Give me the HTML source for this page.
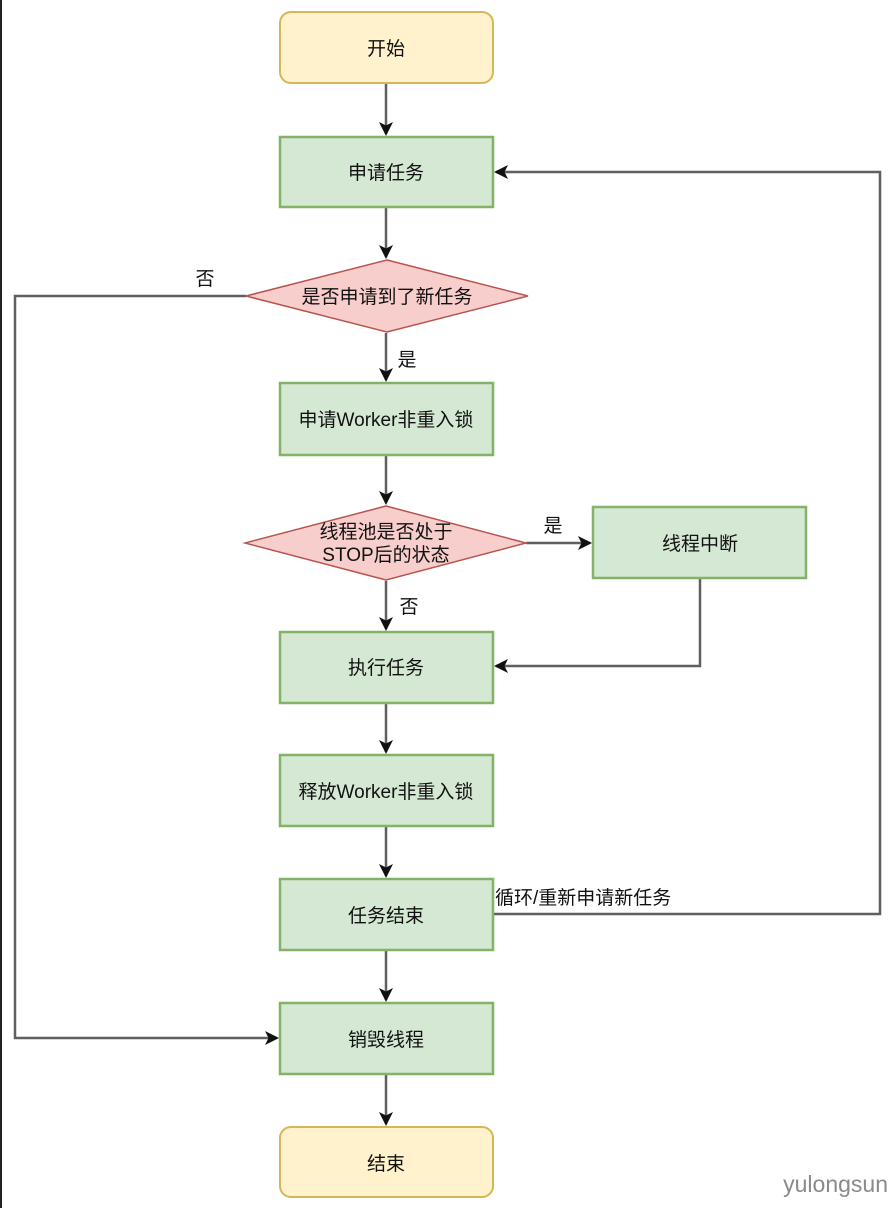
<!DOCTYPE html>
<html><head><meta charset="utf-8"><style>
html,body{margin:0;padding:0;background:#fff;width:894px;height:1208px;overflow:hidden}
svg{display:block}
text{font-family:"Liberation Sans","Noto Sans CJK SC",sans-serif;font-size:19px;fill:#111}
</style></head><body>
<svg width="894" height="1208" viewBox="0 0 894 1208" xmlns="http://www.w3.org/2000/svg">
<defs><marker id="a" markerWidth="14" markerHeight="14" refX="12" refY="7" orient="auto" markerUnits="userSpaceOnUse"><path d="M0,0 L14,7 L0,14 L3.5,7 Z" fill="#111"/></marker></defs>
<rect x="0" y="0" width="2" height="1208" fill="#222"/>
<g fill="none" stroke="#5f5f5f" stroke-width="2.5">
<path d="M386,84 V134" marker-end="url(#a)"/>
<path d="M386,208 V257" marker-end="url(#a)"/>
<path d="M386,333 V380" marker-end="url(#a)"/>
<path d="M386,456 V503" marker-end="url(#a)"/>
<path d="M386,581 V629" marker-end="url(#a)"/>
<path d="M386,704 V752" marker-end="url(#a)"/>
<path d="M386,827 V876" marker-end="url(#a)"/>
<path d="M386,951 V1000" marker-end="url(#a)"/>
<path d="M386,1075 V1124" marker-end="url(#a)"/>
<path d="M526,543 H590" marker-end="url(#a)"/>
<path d="M700,579 V666 H496" marker-end="url(#a)"/>
<path d="M494,914 H880 V172 H496" marker-end="url(#a)"/>
<path d="M246,296 H15 V1038 H277" marker-end="url(#a)"/>
</g>
<rect x="280" y="12" width="213" height="71" rx="11" fill="#fff2cc" stroke="#d6b656" stroke-width="2"/>
<rect x="280" y="1127" width="213" height="70" rx="11" fill="#fff2cc" stroke="#d6b656" stroke-width="2"/>
<g fill="#d5e8d4" stroke="#82b366" stroke-width="2.5">
<rect x="280" y="137" width="213" height="70"/>
<rect x="280" y="383" width="213" height="72"/>
<rect x="593" y="507" width="213" height="71"/>
<rect x="280" y="632" width="213" height="71"/>
<rect x="280" y="755" width="213" height="71"/>
<rect x="280" y="879" width="213" height="71"/>
<rect x="280" y="1003" width="213" height="71"/>
</g>
<g fill="#f8cecc" stroke="#b85450" stroke-width="1.5">
<polygon points="387,260 528,296 387,332 246,296"/>
<polygon points="386,506 526,543 386,580 245,543"/>
</g>
<g text-anchor="middle">
<text x="386" y="55">开始</text>
<text x="386" y="179">申请任务</text>
<text x="387" y="303">是否申请到了新任务</text>
<text x="386" y="426">申请Worker非重入锁</text>
<text x="386" y="538">线程池是否处于</text>
<text x="386" y="561">STOP后的状态</text>
<text x="700" y="550">线程中断</text>
<text x="386" y="674">执行任务</text>
<text x="386" y="798">释放Worker非重入锁</text>
<text x="386" y="922">任务结束</text>
<text x="386" y="1046">销毁线程</text>
<text x="386" y="1170">结束</text>
<text x="205" y="285">否</text>
<text x="407" y="366">是</text>
<text x="553" y="532">是</text>
<text x="409" y="613">否</text>
</g>
<text x="495" y="904">循环/重新申请新任务</text>
<text x="888" y="1192" text-anchor="end" style="font-size:23px;fill:#8a8a8a">yulongsun</text>
</svg>
</body></html>
